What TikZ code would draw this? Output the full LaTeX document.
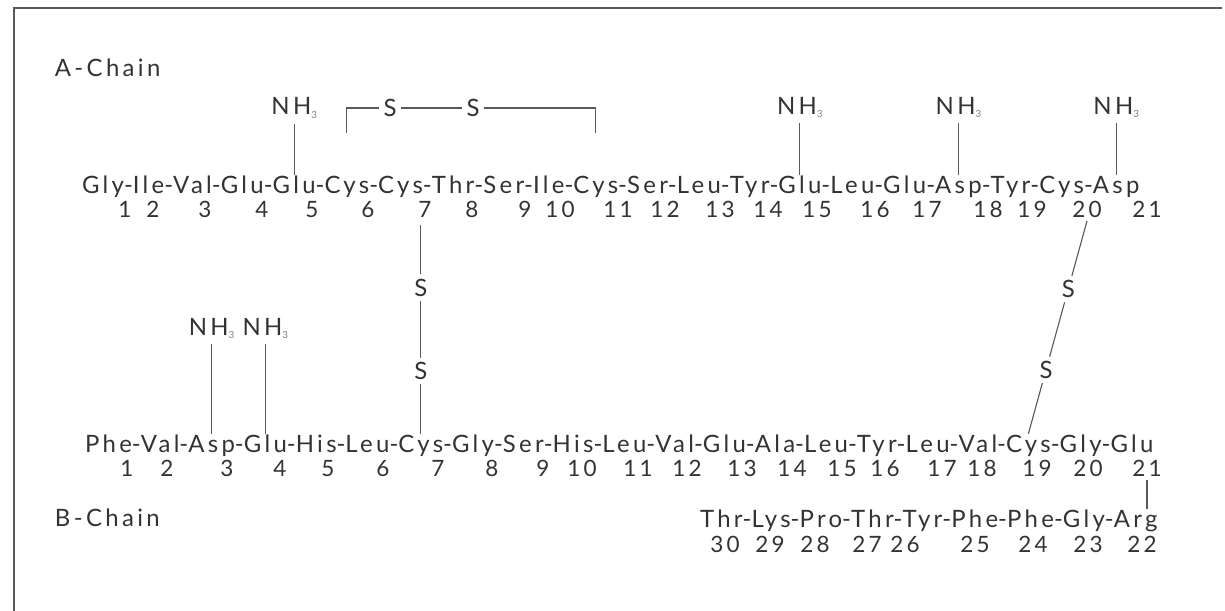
\documentclass[tikz,border=0pt]{standalone}
\usepackage{fontspec}
\setmainfont{Lato}[LetterSpace=14]
\usetikzlibrary{positioning}
\definecolor{ink}{gray}{0.2}
\definecolor{linegray}{gray}{0.35}
\newcommand{\nhthree}{NH\raisebox{-.25ex}{\fontsize{7}{8}\selectfont\color{gray}3}}
\tikzset{
  res/.style={inner sep=0pt, outer sep=0pt, text=ink, text height=13pt, text depth=4pt, font=\fontsize{17}{19}\selectfont},
  num/.style={inner sep=0pt, anchor=base, text=ink, font=\fontsize{16}{18}\selectfont},
  nh/.style={inner sep=4pt, anchor=base, text=ink, font=\fontsize{17}{19}\selectfont},
  atom/.style={inner sep=3pt, text=ink, font=\fontsize{17}{19}\selectfont},
  chainlbl/.style={anchor=base west, text=ink, font=\fontsize{17}{19}\selectfont},
  bond/.style={draw=linegray, line width=0.8pt}
}
\begin{document}
\begin{tikzpicture}[x=0.025cm,y=-0.025cm]
\useasboundingbox (0,0) rectangle (1225,611);
\draw[linegray, line width=1.2pt] (14,611) -- (14,8) -- (1222,8);

% A chain
\node[chainlbl] (alabel) at (50,77) {A-Chain};
\node[res, anchor=base west] (a1) at (82,193) {Gly};
\foreach \name [count=\i from 2, remember=\i as \j (initially 1)] in {Ile,Val,Glu,Glu,Cys,Cys,Thr,Ser,Ile,Cys,Ser,Leu,Tyr,Glu,Leu,Glu,Asp,Tyr,Cys,Asp}
{
  \node[res, right=0pt of a\j] (ha\i) {-};
  \node[res, right=0pt of ha\i] (a\i) {\name};
}
\foreach \x [count=\i] in {125,153,205,262,312,368,425,472,525,560,618,665,720,768,817,875,927,988,1032,1087,1147}
  \node[num] (an\i) at (\x,217) {\i};

% B chain
\node[chainlbl] (blabel) at (50,526) {B-Chain};
\node[res, anchor=base west] (b1) at (85,452) {Phe};
\foreach \name [count=\i from 2, remember=\i as \j (initially 1)] in {Val,Asp,Glu,His,Leu,Cys,Gly,Ser,His,Leu,Val,Glu,Ala,Leu,Tyr,Leu,Val,Cys,Gly,Glu}
{
  \node[res, right=0pt of b\j] (hb\i) {-};
  \node[res, right=0pt of hb\i] (b\i) {\name};
}
\foreach \x [count=\i] in {127,167,227,280,328,383,438,492,543,582,638,687,742,792,842,885,942,982,1037,1088,1147}
  \node[num] (bn\i) at (\x,476) {\i};

% B chain tail
\node[res, anchor=base west] (c30) at (700,527) {Thr};
\foreach \name/\k [remember=\k as \j (initially 30)] in {Lys/29,Pro/28,Thr/27,Tyr/26,Phe/25,Phe/24,Gly/23,Arg/22}
{
  \node[res, right=0pt of c\j] (hc\k) {-};
  \node[res, right=0pt of hc\k] (c\k) {\name};
}
\foreach \x/\n in {725/30,770/29,815/28,867/27,905/26,975/25,1033/24,1088/23,1142/22}
  \node[num] (cn\n) at (\x,552) {\n};
\draw[bond] (bn21.south) ++(0,4) -- (bn21.south |- c22.north);

% NH3 groups
\foreach \r/\y in {a5/115,a15/114,a18/114,a21/114,b3/335,b4/335}
{
  \node[nh] (nh\r) at (\r |- 0,\y) {\nhthree};
  \draw[bond] (nh\r) -- (\r);
}

% disulfide A6-A11
\node[atom] (s1) at (390,108) {S};
\node[atom] (s2) at (473,108) {S};
\draw[bond] (s1) -| (a6 |- 0,133);
\draw[bond] (s1) -- (s2);
\draw[bond] (s2) -| (a11 |- 0,133);

% disulfide A7-B7
\coordinate (top7) at (b7 |- 0,225);
\path (top7) -- node[atom, pos=.3] (s3) {S} node[atom, pos=.7] (s4) {S} (b7.north);
\draw[bond] (top7) -- (s3) -- (s4) -- (b7.north);

% disulfide A20-B19
\coordinate (top20) at (an20.south |- 0,221);
\path (top20) -- node[atom, pos=.32] (s5) {S} node[atom, pos=.7] (s6) {S} (b19.north);
\draw[bond] (top20) -- (s5) -- (s6) -- (b19.north);
\end{tikzpicture}
\end{document}
